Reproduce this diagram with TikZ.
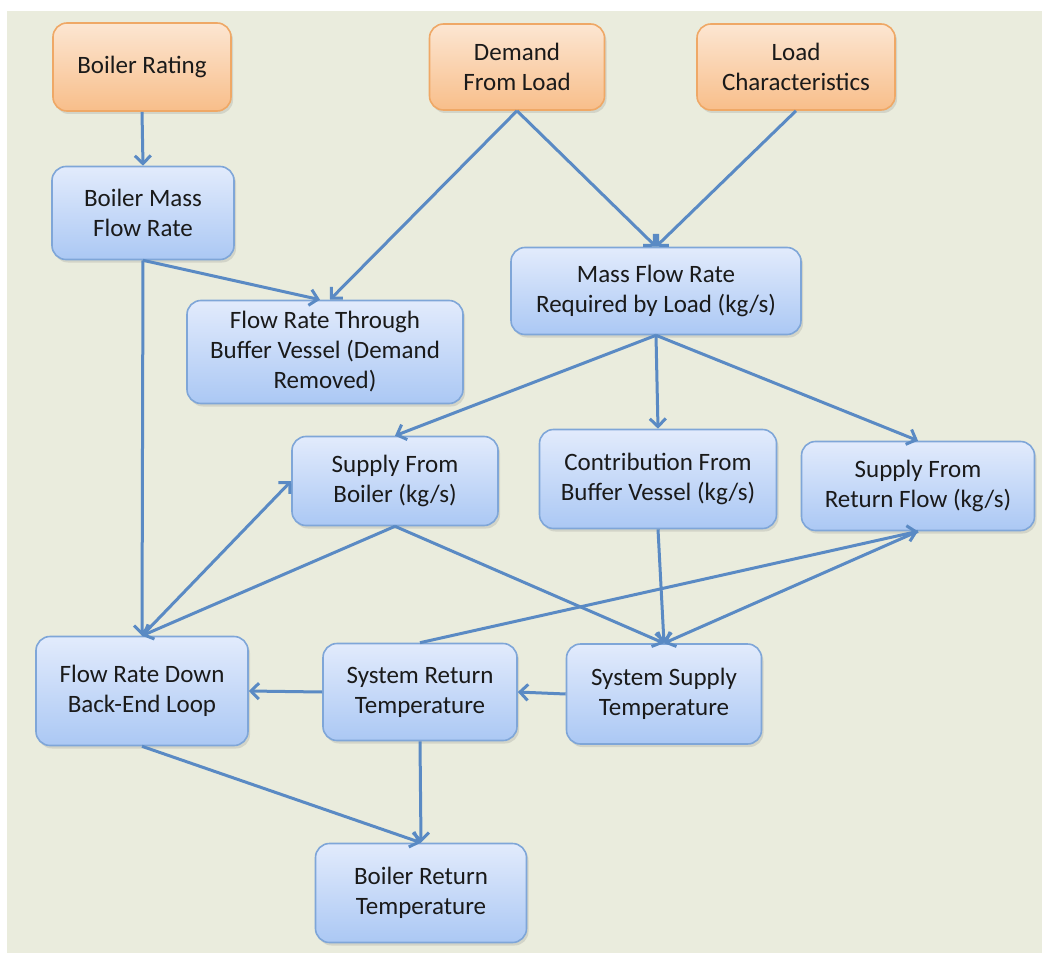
\documentclass[tikz,border=0pt]{standalone}
\usepackage{fontspec}
\setmainfont{Carlito}
\usetikzlibrary{arrows.meta,shadows}
\definecolor{bgc}{HTML}{EAECDD}
\definecolor{bluetop}{HTML}{E2EBFC}
\definecolor{bluebot}{HTML}{ABC8F4}
\definecolor{blueedge}{HTML}{7FA6D8}
\definecolor{orangetop}{HTML}{FCE6D2}
\definecolor{orangebot}{HTML}{F8BE8A}
\definecolor{orangeedge}{HTML}{EFA866}
\definecolor{arrowc}{HTML}{5A8AC4}
\definecolor{textc}{HTML}{1A1A1A}
\begin{document}
\begin{tikzpicture}[x=1pt,y=-1pt,
  box/.style={rounded corners=14pt, draw=blueedge, line width=1.6pt,
    top color=bluetop, bottom color=bluebot, align=center, inner sep=0pt,
    font=\fontsize{25}{30}\selectfont, text=textc,
    drop shadow={shadow xshift=2pt, shadow yshift=-3pt, opacity=0.22}},
  obox/.style={box, draw=orangeedge, top color=orangetop, bottom color=orangebot},
  arr/.style={-{Straight Barb[length=8pt,width=16pt]}, line width=3pt, draw=arrowc}
]
\fill[white] (0,0) rectangle (1042,955);
\fill[bgc] (7,11) rectangle (1042,953);
\useasboundingbox (0,0) rectangle (1042,955);

\node[obox, minimum width=178pt, minimum height=88pt] (br) at (142,67) {Boiler Rating};
\node[obox, minimum width=175pt, minimum height=86pt] (dfl) at (517,67) {Demand\\From Load};
\node[obox, minimum width=198pt, minimum height=86pt] (lc) at (796,67) {Load\\Characteristics};

\node[box, minimum width=182pt, minimum height=93pt] (bmf) at (143,213) {Boiler Mass\\Flow Rate};
\node[box, minimum width=276pt, minimum height=103pt] (frbv) at (325,352) {Flow Rate Through\\Buffer Vessel (Demand\\Removed)};
\node[box, minimum width=290pt, minimum height=87pt] (mfr) at (656,291) {Mass Flow Rate\\Required by Load (kg/s)};

\node[box, minimum width=206pt, minimum height=89pt] (sfb) at (395,481) {Supply From\\Boiler (kg/s)};
\node[box, minimum width=237pt, minimum height=99pt] (cbv) at (658,479) {Contribution From\\Buffer Vessel (kg/s)};
\node[box, minimum width=233pt, minimum height=89pt] (srf) at (918,486) {Supply From\\Return Flow (kg/s)};

\node[box, minimum width=212pt, minimum height=109pt] (frd) at (142,691) {Flow Rate Down\\Back-End Loop};
\node[box, minimum width=194pt, minimum height=97pt] (srt) at (420,692) {System Return\\Temperature};
\node[box, minimum width=195pt, minimum height=100pt] (sst) at (664,694) {System Supply\\Temperature};

\node[box, minimum width=211pt, minimum height=99pt] (brt) at (421,893) {Boiler Return\\Temperature};

\draw[arr] (br.south) -- (bmf.north);
\draw[arr] (dfl.south) -- ([xshift=5pt]frbv.north);
\draw[arr] (dfl.south) -- (mfr.north);
\draw[arr] (lc.south) -- (mfr.north);
\draw[arr] (bmf.south) -- ([xshift=-5pt]frbv.north);
\draw[arr] (bmf.south) -- (frd.north);
\draw[arr] (mfr.south) -- (sfb.north);
\draw[arr] (mfr.south) -- (cbv.north);
\draw[arr] (mfr.south) -- (srf.north);
\draw[arr] (sfb.south) -- (frd.north);
\draw[arr] (frd.north) -- (sfb.west);
\draw[arr] (sfb.south) -- (sst.north);
\draw[arr] (cbv.south) -- (sst.north);
\draw[arr] (srf.south) -- (sst.north);
\draw[arr] (srt.north) -- (srf.south);
\draw[arr] (sst.west) -- (srt.east);
\draw[arr] (srt.west) -- (frd.east);
\draw[arr] (srt.south) -- (brt.north);
\draw[arr] (frd.south) -- (brt.north);
\end{tikzpicture}
\end{document}
